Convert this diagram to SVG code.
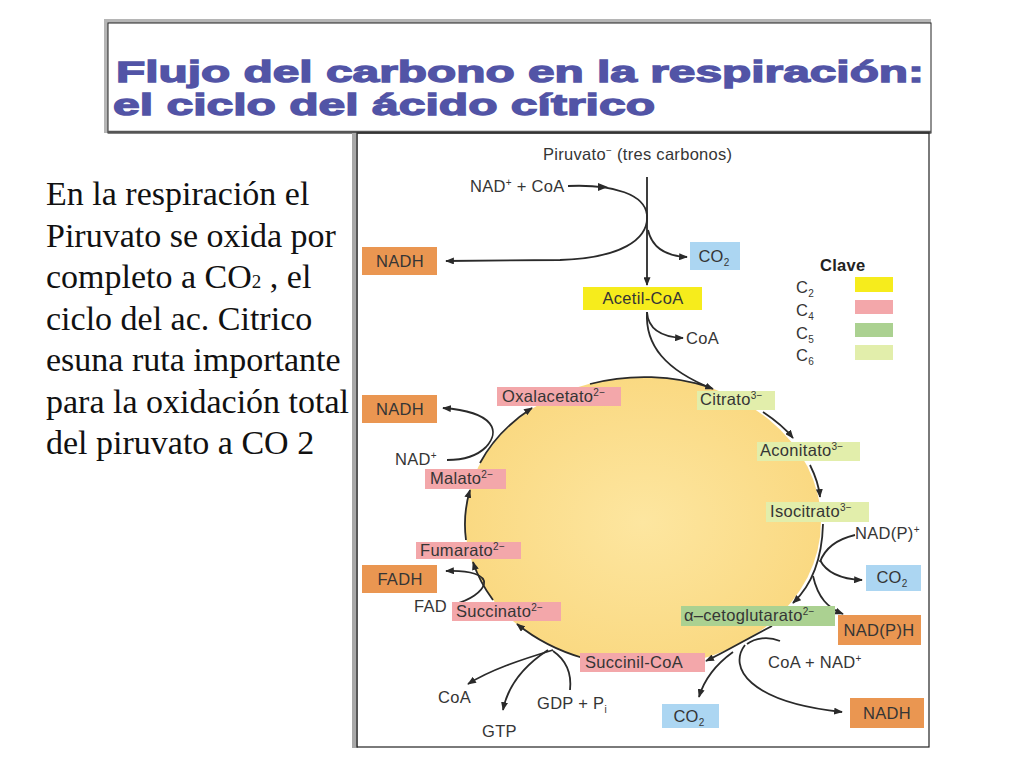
<svg xmlns="http://www.w3.org/2000/svg" width="1024" height="768" viewBox="0 0 1024 768">
<defs>
<marker id="ah" viewBox="0 0 10 8" refX="9" refY="4" markerWidth="9" markerHeight="7" markerUnits="userSpaceOnUse" orient="auto"><path d="M0,0 L10,4 L0,8 z" fill="#2a2a2a"/></marker>
<radialGradient id="cyc" cx="50%" cy="50%" r="50%"><stop offset="0" stop-color="#fde6a0"/><stop offset="1" stop-color="#fad982"/></radialGradient>
<style>
.lbl{font-family:"Liberation Sans",Arial,sans-serif;font-size:16.5px;fill:#353535;letter-spacing:0.3px}
.mid{text-anchor:middle}
.sup{font-size:10px}
.c{stroke:#2a2a2a;stroke-width:1.8;fill:none}
.a{marker-end:url(#ah)}
.or{fill:#ea9651}
.bl{fill:#acd6f2}
.pk{fill:#f3a7aa}
.c6{fill:#e2eeab}
.c5{fill:#abd191}
.ye{fill:#f6ec1c}
.side{font-family:"Liberation Serif","Times New Roman",serif;font-size:34px;fill:#111}
.ttl{font-family:"Liberation Sans",Arial,sans-serif;font-weight:bold;font-size:30px;fill:#5254a6;stroke:#5254a6;stroke-width:1.3}
</style>
</defs>
<rect width="1024" height="768" fill="#ffffff"/>

<g id="title">
<rect x="104" y="19" width="827" height="114" fill="#b5b5b5"/>
<rect x="108" y="23" width="823" height="110" fill="#ffffff" stroke="#222" stroke-width="1"/>
<line x1="108" y1="132" x2="931" y2="132" stroke="#555" stroke-width="2.5"/>
<text class="ttl" x="116" y="82" textLength="808" lengthAdjust="spacingAndGlyphs">Flujo del carbono en la respiración:</text>
<text class="ttl" x="113" y="115" textLength="542" lengthAdjust="spacingAndGlyphs">el ciclo del ácido cítrico</text>
</g>

<g id="side-text" class="side">
<text x="46" y="205">En la respiración el</text>
<text x="46" y="247">Piruvato se oxida por</text>
<text x="46" y="288">completo a CO<tspan font-size="19">2</tspan> , el</text>
<text x="46" y="330">ciclo del ac. Citrico</text>
<text x="46" y="371">esuna ruta importante</text>
<text x="46" y="413">para la oxidación total</text>
<text x="46" y="454">del piruvato a CO 2</text>
</g>

<g id="panel">
<rect x="352" y="133" width="6" height="615" fill="#a8a8a8"/>
<rect x="357" y="133" width="572" height="614" fill="none" stroke="#222" stroke-width="1.2"/>
</g>

<g id="cycle">
<ellipse cx="643" cy="522" rx="178" ry="145" fill="url(#cyc)"/>
</g>

<g id="connectors" class="c">
<path class="a" d="M647,177 L647,285"/>
<path class="a" d="M568,186 C615,184 645,195 647,215 C649,240 620,258 560,260 L446,261"/>
<path d="M598,183 L608,187 L598,191 z" fill="#2a2a2a" stroke="none"/>
<path class="a" d="M648,230 C652,248 665,256 687,257"/>
<path class="a" d="M647,312 C648,328 660,337 683,338"/>
<path class="a" d="M647,312 C645,345 665,370 713,389"/>
<path d="M590,384 A178,145 0 0 1 712,388"/>
<path class="a" d="M763,412 C775,420 785,428 793,438"/>
<path class="a" d="M810,465 C815,475 819,486 820,497"/>
<path class="a" d="M823,524 C822,560 812,585 793,603"/>
<path d="M855,535 C838,539 825,548 820,562"/>
<path class="a" d="M820,560 C826,572 840,579 862,580"/>
<path class="a" d="M813,576 C818,598 828,608 843,614"/>
<path class="a" d="M772,626 C745,640 725,652 706,661"/>
<path d="M780,641 C768,636 755,638 747,644"/>
<path class="a" d="M745,645 C728,667 748,702 842,712"/>
<path class="a" d="M733,652 C715,665 704,680 699,697"/>
<path class="a" d="M583,658 A178,145 0 0 1 517,624"/>
<path class="a" d="M553,650 C520,660 490,670 468,684"/>
<path class="a" d="M548,650 C525,665 508,685 503,710"/>
<path d="M570,690 C572,672 566,660 553,651"/>
<path class="a" d="M493,600 A178,145 0 0 1 473,562"/>
<path class="a" d="M455,604 C470,600 482,592 484,584 C486,575 470,570 446,571"/>
<path class="a" d="M466,540 A178,145 0 0 1 470,490"/>
<path class="a" d="M480,463 A178,145 0 0 1 532,408"/>
<path class="a" d="M447,460 C465,460 478,455 486,447 C500,432 496,412 443,408"/>
</g>

<g id="piruvato" class="lbl"><text x="543" y="160">Piruvato<tspan class="sup" dy="-6">−</tspan><tspan dy="6"> (tres carbonos)</tspan></text></g>
<g id="nad-coa" class="lbl"><text x="470" y="192">NAD<tspan class="sup" dy="-6">+</tspan><tspan dy="6"> + CoA</tspan></text></g>
<g id="nadh-1"><rect class="or" x="362" y="247" width="75" height="28"/><text class="lbl mid" x="400" y="267">NADH</text></g>
<g id="co2-1"><rect class="bl" x="690" y="242" width="50" height="28"/><text class="lbl mid" x="714" y="262">CO<tspan class="sup" dy="4">2</tspan></text></g>
<g id="acetil"><rect class="ye" x="583" y="287" width="119" height="23"/><text class="lbl mid" x="643" y="304">Acetil-CoA</text></g>
<g id="coa-1" class="lbl"><text x="686" y="344">CoA</text></g>

<g id="key" class="lbl">
<text x="820" y="271" font-weight="bold" fill="#222">Clave</text>
<text x="796" y="293">C<tspan class="sup" dy="4">2</tspan></text>
<text x="796" y="316">C<tspan class="sup" dy="4">4</tspan></text>
<text x="796" y="339">C<tspan class="sup" dy="4">5</tspan></text>
<text x="796" y="361">C<tspan class="sup" dy="4">6</tspan></text>
<rect class="ye" x="855" y="277" width="38" height="15"/>
<rect class="pk" x="855" y="300" width="38" height="14"/>
<rect class="c5" x="855" y="323" width="38" height="14"/>
<rect class="c6" x="855" y="345" width="38" height="15"/>
</g>

<g id="oxalacetato"><rect class="pk" x="497" y="387" width="124" height="19"/><text class="lbl" x="502" y="402">Oxalacetato<tspan class="sup" dy="-6">2−</tspan></text></g>
<g id="citrato"><rect class="c6" x="697" y="391" width="78" height="19"/><text class="lbl" x="700" y="405">Citrato<tspan class="sup" dy="-6">3−</tspan></text></g>
<g id="aconitato"><rect class="c6" x="757" y="442" width="103" height="19"/><text class="lbl" x="760" y="456">Aconitato<tspan class="sup" dy="-6">3−</tspan></text></g>
<g id="isocitrato"><rect class="c6" x="766" y="502" width="103" height="20"/><text class="lbl" x="770" y="517">Isocitrato<tspan class="sup" dy="-6">3−</tspan></text></g>
<g id="nadp-plus" class="lbl"><text x="855" y="539">NAD(P)<tspan class="sup" dy="-6">+</tspan></text></g>
<g id="co2-2"><rect class="bl" x="866" y="565" width="55" height="26"/><text class="lbl mid" x="892" y="583">CO<tspan class="sup" dy="4">2</tspan></text></g>
<g id="cetoglutarato"><rect class="c5" x="681" y="606" width="154" height="20"/><text class="lbl" x="684" y="621">α–cetoglutarato<tspan class="sup" dy="-6">2−</tspan></text></g>
<g id="nadph"><rect class="or" x="838" y="615" width="83" height="30"/><text class="lbl mid" x="879" y="636">NAD(P)H</text></g>
<g id="coa-nad" class="lbl"><text x="768" y="668">CoA + NAD<tspan class="sup" dy="-6">+</tspan></text></g>
<g id="nadh-3"><rect class="or" x="850" y="698" width="74" height="30"/><text class="lbl mid" x="887" y="719">NADH</text></g>
<g id="co2-3"><rect class="bl" x="662" y="704" width="57" height="24"/><text class="lbl mid" x="689" y="722">CO<tspan class="sup" dy="4">2</tspan></text></g>
<g id="succinil"><rect class="pk" x="580" y="653" width="125" height="19"/><text class="lbl" x="585" y="668">Succinil-CoA</text></g>
<g id="gdp" class="lbl"><text x="537" y="709">GDP + P<tspan class="sup" dy="4">i</tspan></text></g>
<g id="gtp" class="lbl"><text x="482" y="737">GTP</text></g>
<g id="coa-2" class="lbl"><text x="438" y="703">CoA</text></g>
<g id="succinato"><rect class="pk" x="452" y="602" width="109" height="19"/><text class="lbl" x="456" y="617">Succinato<tspan class="sup" dy="-6">2−</tspan></text></g>
<g id="fad" class="lbl"><text x="414" y="612">FAD</text></g>
<g id="fadh"><rect class="or" x="362" y="565" width="75" height="28"/><text class="lbl mid" x="400" y="585">FADH</text></g>
<g id="fumarato"><rect class="pk" x="416" y="542" width="105" height="17"/><text class="lbl" x="420" y="556">Fumarato<tspan class="sup" dy="-6">2−</tspan></text></g>
<g id="malato"><rect class="pk" x="425" y="469" width="81" height="20"/><text class="lbl" x="430" y="484">Malato<tspan class="sup" dy="-6">2−</tspan></text></g>
<g id="nad-plus" class="lbl"><text x="395" y="465">NAD<tspan class="sup" dy="-6">+</tspan></text></g>
<g id="nadh-2"><rect class="or" x="362" y="395" width="75" height="28"/><text class="lbl mid" x="400" y="415">NADH</text></g>
</svg>
